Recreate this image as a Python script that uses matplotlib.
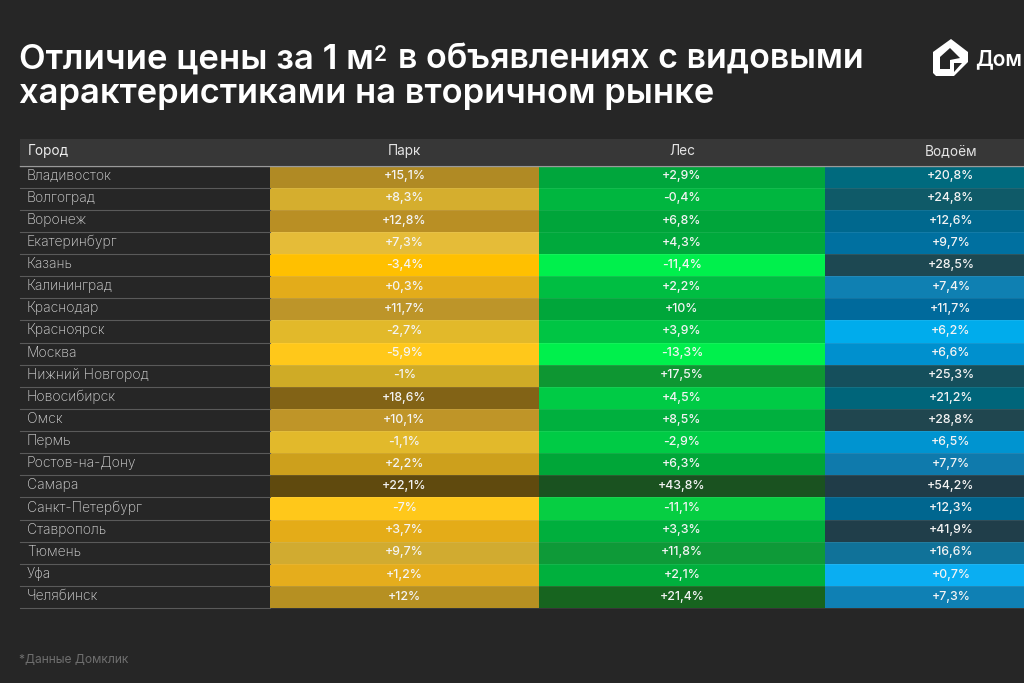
import matplotlib
matplotlib.use("Agg")
import matplotlib.pyplot as plt
from matplotlib.patches import Polygon

BG = "#262626"
plt.rcParams["font.family"] = ["Inter", "DejaVu Sans"]

cities = ["Владивосток", "Волгоград", "Воронеж", "Екатеринбург", "Казань", "Калининград",
          "Краснодар", "Красноярск", "Москва", "Нижний Новгород", "Новосибирск", "Омск",
          "Пермь", "Ростов-на-Дону", "Самара", "Санкт-Петербург", "Ставрополь", "Тюмень",
          "Уфа", "Челябинск"]
park = ["+15,1%", "+8,3%", "+12,8%", "+7,3%", "-3,4%", "+0,3%", "+11,7%", "-2,7%", "-5,9%", "-1%",
        "+18,6%", "+10,1%", "-1,1%", "+2,2%", "+22,1%", "-7%", "+3,7%", "+9,7%", "+1,2%", "+12%"]
forest = ["+2,9%", "-0,4%", "+6,8%", "+4,3%", "-11,4%", "+2,2%", "+10%", "+3,9%", "-13,3%", "+17,5%",
          "+4,5%", "+8,5%", "-2,9%", "+6,3%", "+43,8%", "-11,1%", "+3,3%", "+11,8%", "+2,1%", "+21,4%"]
water = ["+20,8%", "+24,8%", "+12,6%", "+9,7%", "+28,5%", "+7,4%", "+11,7%", "+6,2%", "+6,6%", "+25,3%",
         "+21,2%", "+28,8%", "+6,5%", "+7,7%", "+54,2%", "+12,3%", "+41,9%", "+16,6%", "+0,7%", "+7,3%"]

park_colors = ["#B08A24", "#D5AE2E", "#B98F24", "#E5BC38", "#FFC000", "#E3AC1A", "#BD9529",
               "#E2B92A", "#FFC81A", "#CFAB26", "#826316", "#BF9528", "#E2B92B", "#CDA01C",
               "#604A0E", "#FFC81A", "#E4AC18", "#D1AB30", "#E5AD1C", "#B69022"]
forest_colors = ["#00A63C", "#00B63F", "#00A53A", "#00A93C", "#00F04C", "#00BE42", "#00A63A",
                 "#00C544", "#00F04C", "#0E9632", "#00CB45", "#00B03E", "#00CB45", "#00A638",
                 "#1A5220", "#06CE42", "#00AF3D", "#0E9A38", "#00B03D", "#17641F"]
water_colors = ["#006A7E", "#0F5A68", "#00688E", "#0070A0", "#1D4852", "#0F80B2", "#006A9C",
                "#00ACEC", "#0090CE", "#154F5C", "#00657A", "#20464F", "#0094D0", "#0F7AAC",
                "#203C48", "#00668F", "#203E4A", "#107299", "#0AAEF2", "#0F80B4"]

headers = ["Парк", "Лес", "Водоём"]

fig = plt.figure(figsize=(10.24, 6.83), dpi=100, facecolor=BG)
ax = fig.add_axes([0, 0, 1, 1])
ax.set_xlim(0, 1024)
ax.set_ylim(683, 0)
ax.axis("off")

top = 165.5
row_h = 22.13
# the water column runs past the right edge of the slide, the axes clip it
columns = [(270, 269, park, park_colors), (539, 286, forest, forest_colors), (825, 252, water, water_colors)]
ys = [top + i * row_h for i in range(len(cities))]

# header
ax.barh(152, 1004, height=26, left=20, color="#373737", linewidth=0)
ax.text(28, 151, "Город", color="#EDEDED", fontsize=9.8, va="center")
for (left, width, _, _), name in zip(columns, headers):
    ax.text(left + width / 2, 151, name, color="#E4E4E4", fontsize=9.8, ha="center", va="center")

# cells
for left, width, labels, colors in columns:
    ax.barh([y + row_h / 2 for y in ys], width, height=row_h, left=left, color=colors, linewidth=0)
    for y, label in zip(ys, labels):
        ax.text(left + width / 2, y + row_h / 2 - 0.3, label, color="#F4F4F4",
                fontsize=8.9, fontweight="medium", ha="center", va="center")

for y, name in zip(ys, cities):
    ax.text(27, y + row_h / 2 - 1, name, color="#D6D6D6", fontsize=10, fontweight="light", va="center")
    ax.plot([270, 1024], [y + row_h] * 2, color="#FFFFFF", alpha=0.08, lw=0.8)
    ax.plot([20, 270], [y + row_h] * 2, color="#5A5A5A", lw=0.8)
ax.plot([20, 1024], [top, top], color="#9A9A9A", lw=1)

# title, the 2 is set by hand because the font's own superscript is too small
ax.text(19, 68.5, "Отличие цены за 1 м", color="white", fontsize=25, fontweight="semibold", va="baseline")
ax.text(373.5, 61, "2", color="white", fontsize=15, fontweight="semibold", va="baseline")
ax.text(398, 68.5, "в объявлениях с видовыми", color="white", fontsize=24.5, fontweight="semibold", va="baseline")
ax.text(19, 102.5, "характеристиками на вторичном рынке", color="white",
        fontsize=24.8, fontweight="semibold", va="baseline")

# logo
ax.add_patch(Polygon([(933, 52), (933, 73), (936, 76), (954, 76), (968, 62), (968, 52), (951, 39)],
                     closed=True, color="white", lw=0))
ax.add_patch(Polygon([(940, 57), (940, 69), (950, 69), (950, 60), (960, 58), (950, 48)],
                     closed=True, color=BG, lw=0))
ax.add_patch(Polygon([(954, 72), (954, 63), (962, 63)], closed=True, color=BG, lw=0))
ax.text(975.5, 59, "Дом", color="white", fontsize=15, fontweight="semibold", va="center")

ax.text(19, 660, "*Данные Домклик", color="#6E6E6E", fontsize=8.7, va="center")

fig.savefig("out.png", dpi=100, facecolor=BG)
